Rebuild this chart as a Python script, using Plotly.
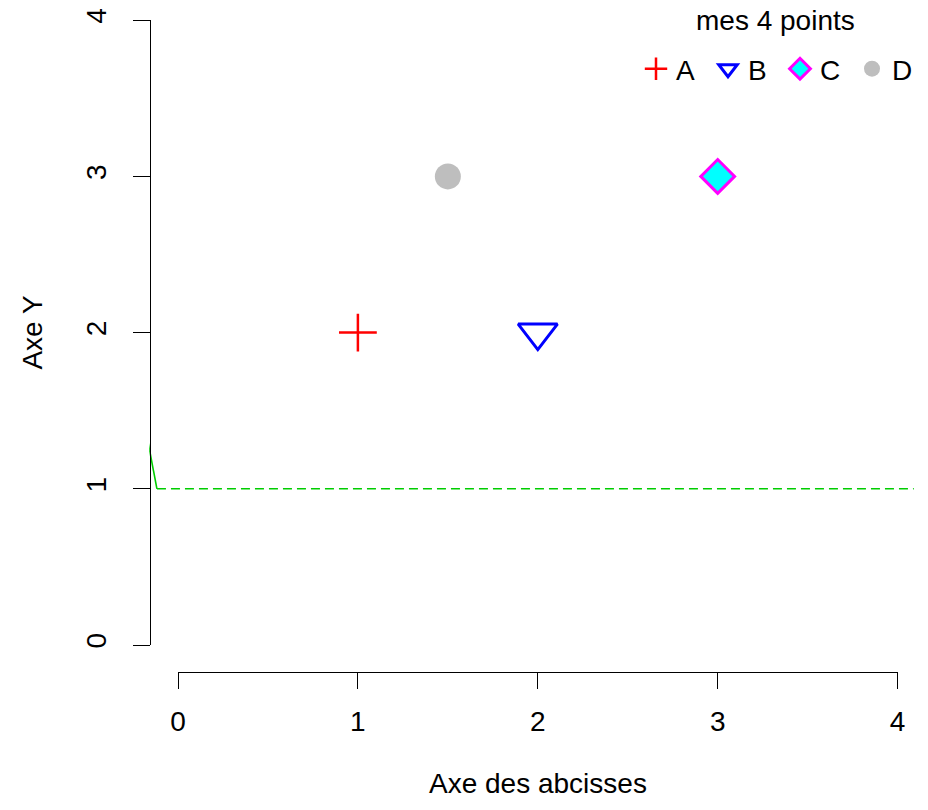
import plotly.graph_objects as go

# ---- data ----
point_names = ["A", "B", "C", "D"]
point_x = [1, 2, 3, 1.5]
point_y = [2, 2, 3, 3]
point_symbols = ["cross-thin", "triangle-down-open", "diamond", "circle"]
point_fill = ["#FF0000", "#0000FF", "#00FFFF", "#BEBEBE"]
point_edge = ["#FF0000", "#0000FF", "#FF00FF", "#BEBEBE"]
point_sizes = [27, 34, 26, 26]

green_solid_x = [-0.2, -0.117]
green_solid_y = [1.5, 1.0]
green_dash_x = [-0.117, 4.09]
green_dash_y = [1.0, 1.0]

tick_vals = [0, 1, 2, 3, 4]
tick_text = ["0", "1", "2", "3", "4"]
legend_title = "mes 4 points"
x_title = "Axe des abcisses"
y_title = "Axe Y"

# ---- geometry (page pixels; body margin removed below) ----
OFF = 0
W, H = 928, 810
X0PX, XUNIT = 178.0, 179.9   # page pixel of x=0, px per unit
Y0PX, YUNIT = 645.0, 156.2   # page pixel of y=0, px per unit

def xf(px):
    return (px - OFF) / W

def yf(py):
    return 1 - (py - OFF) / H

main_x_range = [-0.16, 4.16]
main_x_dom = [xf(X0PX + main_x_range[0] * XUNIT), min(1.0, xf(X0PX + main_x_range[1] * XUNIT))]
main_y_bottom_px = 670.0
main_y_range = [(Y0PX - main_y_bottom_px) / YUNIT, (Y0PX - OFF) / YUNIT]
main_y_dom = [yf(main_y_bottom_px), 1.0]

FONT = "Liberation Sans, Arial, Helvetica, sans-serif"
FS = 28

fig = go.Figure()

fig.add_trace(go.Scatter(x=green_solid_x, y=green_solid_y, mode="lines",
                         line=dict(color="#00CD00", width=1.6),
                         showlegend=False, hoverinfo="skip"))
fig.add_trace(go.Scatter(x=green_dash_x, y=green_dash_y, mode="lines",
                         line=dict(color="#00CD00", width=1.6, dash="9px,5px"),
                         showlegend=False, hoverinfo="skip"))

for name, x, y, sym, fc, ec, sz in zip(point_names, point_x, point_y, point_symbols,
                                       point_fill, point_edge, point_sizes):
    lw = 2.5 if sym == "cross-thin" else 3
    if sym == "circle":
        lw = 0
    fig.add_trace(go.Scatter(x=[x], y=[y], mode="markers", name=name,
                             marker=dict(symbol=sym, size=sz, color=fc,
                                         line=dict(color=ec, width=lw))))

# dummy trace to create visible axes subplot
fig.add_trace(go.Scatter(x=[None], y=[None], xaxis="x2", yaxis="y2",
                         showlegend=False, hoverinfo="skip"))

fig.update_layout(
    width=W, height=H,
    margin=dict(l=0, r=0, t=0, b=0, autoexpand=False),
    paper_bgcolor="white", plot_bgcolor="rgba(0,0,0,0)",
    font=dict(family=FONT, size=FS, color="black"),
    xaxis=dict(domain=main_x_dom, range=main_x_range, visible=False, fixedrange=True),
    yaxis=dict(domain=main_y_dom, range=main_y_range, visible=False, fixedrange=True),
    xaxis2=dict(domain=[xf(X0PX), xf(X0PX + 4 * XUNIT)], range=[0, 4],
                anchor="free", position=yf(672), showgrid=False, zeroline=False,
                showline=True, linecolor="black", linewidth=1,
                ticks="outside", ticklen=16, tickwidth=1, tickcolor="black",
                tickvals=tick_vals, ticktext=tick_text, ticklabelstandoff=8,
                tickfont=dict(family=FONT, size=FS, color="black")),
    yaxis2=dict(domain=[yf(Y0PX), yf(Y0PX - 4 * YUNIT)], range=[0, 4],
                anchor="free", position=xf(150), showgrid=False, zeroline=False,
                showline=True, linecolor="black", linewidth=1,
                ticks="outside", ticklen=17, tickwidth=1, tickcolor="black",
                tickvals=tick_vals, ticktext=tick_text, tickangle=-90,
                ticklabelstandoff=16,
                tickfont=dict(family=FONT, size=FS, color="black")),
    legend=dict(orientation="h", x=xf(924), xanchor="right", y=yf(44), yanchor="top",
                font=dict(family=FONT, size=FS, color="black"),
                bgcolor="rgba(0,0,0,0)", itemsizing="trace",
                entrywidth=27, entrywidthmode="pixels"),
    annotations=[
        dict(text=legend_title, x=xf(775), y=yf(20), xref="paper", yref="paper",
             showarrow=False, xanchor="center", yanchor="middle",
             font=dict(family=FONT, size=FS, color="black")),
        dict(text=x_title, x=xf(X0PX + 2 * XUNIT), y=yf(783), xref="paper", yref="paper",
             showarrow=False, xanchor="center", yanchor="middle",
             font=dict(family=FONT, size=FS, color="black")),
        dict(text=y_title, x=xf(33), y=yf((Y0PX + Y0PX - 4 * YUNIT) / 2), xref="paper",
             yref="paper", showarrow=False, textangle=-90, xanchor="center",
             yanchor="middle", font=dict(family=FONT, size=FS, color="black")),
    ],
    showlegend=True,
)

fig.write_html("out.html",
               config={"displayModeBar": False},
               post_script="document.body.style.margin='0';document.body.style.overflow='hidden';")
